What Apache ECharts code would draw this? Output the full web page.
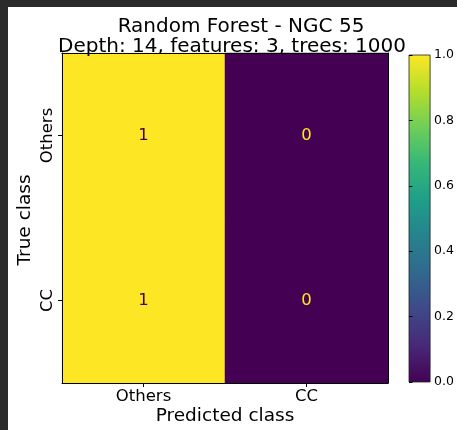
<!DOCTYPE html>
<html>
<head>
<meta charset="utf-8">
<script src="https://cdn.jsdelivr.net/npm/echarts@6/dist/echarts.min.js"></script>
<style>
  html, body { margin: 0; padding: 0; background: #ffffff; }
  #chart { width: 457px; height: 430px; }
</style>
</head>
<body>
<div id="chart"></div>
<script>
// Confusion matrix: rows = true class, columns = predicted class
const predictedClasses = ['Others', 'CC'];
const trueClasses = ['Others', 'CC'];
const matrixOthers = [1, 0];   // true "Others": predicted Others, CC
const matrixCC = [1, 0];       // true "CC": predicted Others, CC
const colorbarTicks = [0, 0.2, 0.4, 0.6, 0.8, 1.0];

const titleLine1 = 'Random Forest - NGC 55';
const titleLine2 = 'Depth: 14, features: 3, trees: 1000';

// viridis colour ramp
const viridis = ['#440154', '#482878', '#3e4989', '#31688e', '#26828e',
                 '#1f9e89', '#35b779', '#6ece58', '#b5de2b', '#fde725'];

const FONT = 'DejaVu Sans';
const rows = [matrixOthers, matrixCC];
const cells = [];
rows.forEach((row, yi) => {
  row.forEach((v, xi) => {
    cells.push({
      value: [xi, yi, v],
      label: { color: v >= 0.5 ? viridis[0] : viridis[viridis.length - 1] }
    });
  });
});

const chart = echarts.init(document.getElementById('chart'), null, { renderer: 'canvas' });

const gridMain = { left: 62, top: 53, width: 326, height: 330 };
const gridBar = { left: 409, top: 55, width: 25, height: 327 };

chart.setOption({
  backgroundColor: '#ffffff',
  animation: false,
  textStyle: { fontFamily: FONT },
  title: [
    { text: titleLine1, left: 236, top: 12, textAlign: 'center',
      textStyle: { fontFamily: FONT, fontSize: 20, fontWeight: 'normal', color: '#000', lineHeight: 20 } },
    { text: titleLine2, left: 227, top: 32, textAlign: 'center',
      textStyle: { fontFamily: FONT, fontSize: 20, fontWeight: 'normal', color: '#000', lineHeight: 20 } }
  ],
  grid: [
    Object.assign({ containLabel: false }, gridMain),
    Object.assign({ containLabel: false }, gridBar)
  ],
  xAxis: [
    {
      type: 'category', gridIndex: 0, data: predictedClasses, position: 'bottom', z: 5,
      axisLine: { show: true, lineStyle: { color: '#000', width: 1 } },
      axisTick: { show: true, alignWithLabel: true, length: 4, lineStyle: { color: '#000' } },
      axisLabel: { fontFamily: FONT, fontSize: 16.5, color: '#000', margin: 5 },
      splitLine: { show: false }, splitArea: { show: false }
    },
    {
      type: 'category', gridIndex: 0, data: predictedClasses, position: 'top', z: 5,
      axisLine: { show: true, lineStyle: { color: '#000', width: 1 } },
      axisTick: { show: false }, axisLabel: { show: false }, splitLine: { show: false }
    },
    {
      type: 'value', gridIndex: 1, min: 0, max: 1, show: false
    }
  ],
  yAxis: [
    {
      type: 'category', gridIndex: 0, data: trueClasses, inverse: true, position: 'left', z: 5,
      axisLine: { show: true, lineStyle: { color: '#000', width: 1 } },
      axisTick: { show: true, alignWithLabel: true, length: 4, lineStyle: { color: '#000' } },
      axisLabel: { fontFamily: FONT, fontSize: 16.5, color: '#000', margin: 6, rotate: 90 },
      splitLine: { show: false }, splitArea: { show: false }
    },
    {
      type: 'category', gridIndex: 0, data: trueClasses, inverse: true, position: 'right', z: 5,
      axisLine: { show: true, lineStyle: { color: '#000', width: 1 } },
      axisTick: { show: false }, axisLabel: { show: false }, splitLine: { show: false }
    },
    {
      type: 'value', gridIndex: 1, min: 0, max: 1, interval: 0.2, position: 'right', z: 5,
      axisLine: { show: false },
      axisTick: { show: true, length: 3.5, lineStyle: { color: '#000' } },
      axisLabel: { fontFamily: FONT, fontSize: 12.5, color: '#000', margin: 4,
                   formatter: v => colorbarTicks.includes(+v.toFixed(1)) ? v.toFixed(1) : '' },
      splitLine: { show: false }
    }
  ],
  visualMap: {
    show: false, type: 'continuous', min: 0, max: 1, seriesIndex: 0,
    inRange: { color: viridis }
  },
  series: [
    {
      type: 'heatmap', xAxisIndex: 0, yAxisIndex: 0, data: cells,
      itemStyle: { borderWidth: 0 },
      label: { show: true, fontFamily: FONT, fontSize: 16.5, formatter: p => String(p.value[2]) },
      emphasis: { disabled: true }
    },
    {
      // colour bar drawn on its own value scale
      type: 'custom', xAxisIndex: 2, yAxisIndex: 2, silent: true,
      data: [[0, 0, 1, 1]],
      renderItem: (params, api) => {
        const topLeft = api.coord([api.value(0), api.value(3)]);
        const botRight = api.coord([api.value(2), api.value(1)]);
        const stops = viridis.map((c, i) => ({ offset: 1 - i / (viridis.length - 1), color: c }));
        return {
          type: 'rect',
          shape: { x: topLeft[0], y: topLeft[1], width: botRight[0] - topLeft[0], height: botRight[1] - topLeft[1] },
          style: {
            fill: new echarts.graphic.LinearGradient(0, 0, 0, 1, stops.reverse()),
            stroke: '#222', lineWidth: 0.8
          }
        };
      }
    }
  ],
  graphic: [
    // dark window frame along the top and left edges
    { type: 'rect', left: 0, top: 0, shape: { width: 457, height: 7 }, style: { fill: '#2b2b2b' }, z: 10 },
    { type: 'rect', left: 0, top: 0, shape: { width: 8, height: 430 }, style: { fill: '#2b2b2b' }, z: 10 },
    { type: 'text', x: 225, y: 416.5, z: 10,
      style: { text: 'Predicted class', font: '18.5px "DejaVu Sans"', fill: '#000', align: 'center', verticalAlign: 'middle' } },
    { type: 'text', x: 25, y: 220, rotation: Math.PI / 2, z: 10,
      style: { text: 'True class', font: '18.5px "DejaVu Sans"', fill: '#000', align: 'center', verticalAlign: 'middle' } }
  ]
});
</script>
</body>
</html>
